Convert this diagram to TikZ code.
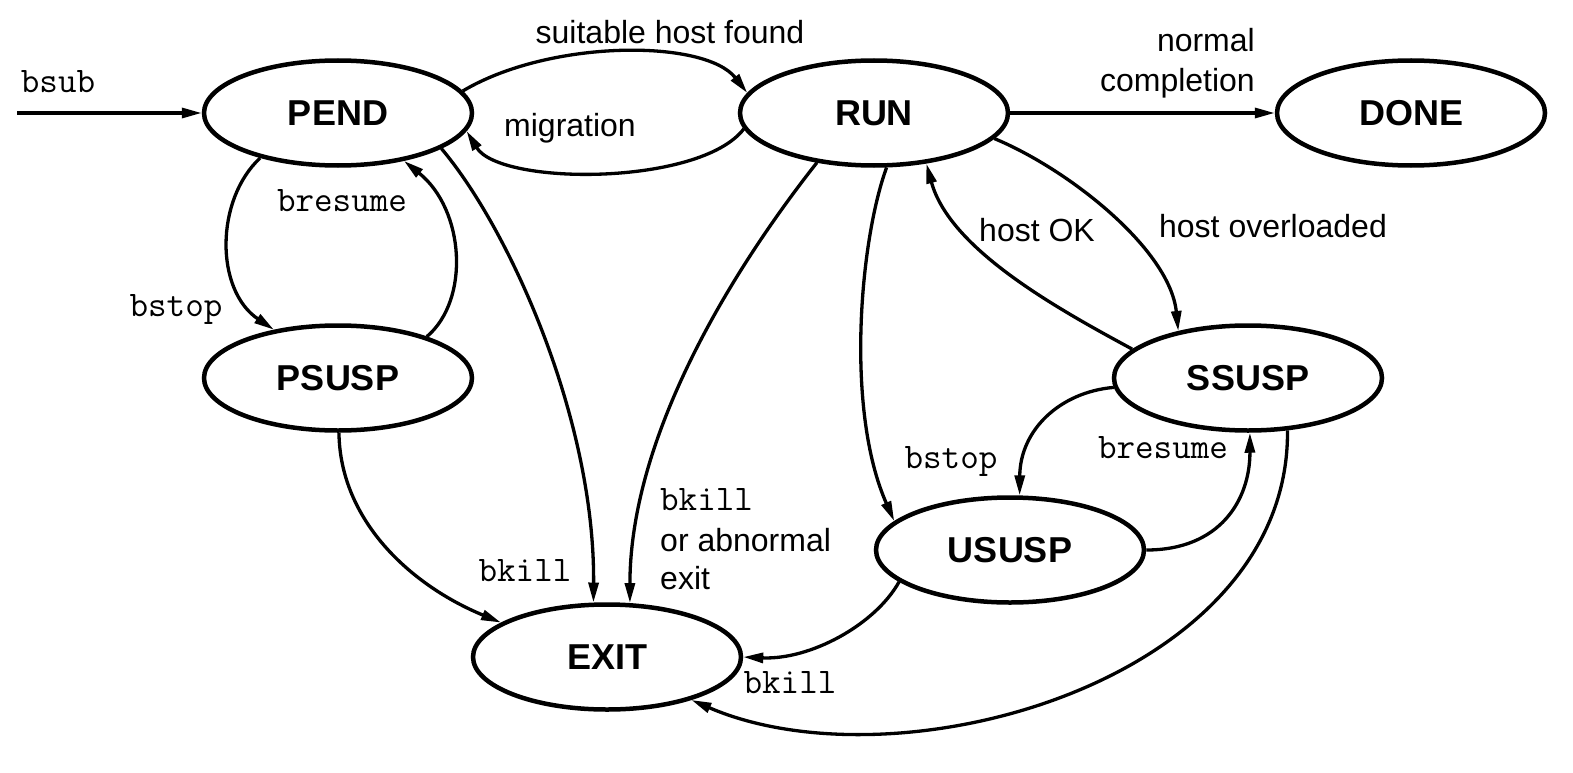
\documentclass[tikz,border=0pt]{standalone}
\usepackage{fontspec}
\setmainfont{Liberation Sans}
\usetikzlibrary{shapes.geometric,arrows.meta}
\tikzset{
  state/.style={ellipse, draw, line width=4.5pt, minimum width=268pt, minimum height=105pt, inner sep=0pt,
    font=\fontsize{36}{40}\selectfont\bfseries},
  edge/.style={line width=3.3pt, -{Triangle[length=20pt,width=10pt]}},
  lab/.style={font=\fontsize{32}{38}\selectfont, inner sep=0pt},
  mono/.style={font=\ttfamily\fontsize{36}{40}\selectfont, inner sep=0pt},
}
\begin{document}
\begin{tikzpicture}[x=1pt,y=-1pt]
\useasboundingbox (0,0) rectangle (1573,773);
% states
\node[state] (pend)  at (338,113) {PEND};
\node[state] (run)   at (874,113) {RUN};
\node[state] (done)  at (1411,113) {DONE};
\node[state] (psusp) at (338,378) {PSUSP};
\node[state] (ssusp) at (1248,378) {SSUSP};
\node[state] (ususp) at (1010,550) {USUSP};
\node[state] (exit)  at (607,657) {EXIT};
\coordinate (start) at (17,113);
% edges
\draw[edge] (start) -- (pend.west);
\draw[edge] (pend.10) .. controls (550,39) and (705,39) .. (run.171);
\draw[edge] (run.187) .. controls (700,186) and (500,186) .. (pend.-8);
\draw[edge] (run.east) -- (done.west);
\draw[edge] (pend.-150) .. controls (215,200) and (215,290) .. (psusp.143);
\draw[edge] (psusp.25) .. controls (470,300) and (465,210) .. (pend.-36);
\draw[edge] (pend.-19) .. controls (510,230) and (595,420) .. (exit.104);
\draw[edge] (run.-139) .. controls (740,260) and (630,430) .. (exit.67);
\draw[edge] (run.-77) .. controls (860,240) and (845,410) .. (ususp.166);
\draw[edge] (ssusp.166) .. controls (1060,310) and (950,250) .. (run.-44);
\draw[edge] (run.-12) .. controls (1070,170) and (1170,250) .. (ssusp.146);
\draw[edge] (ssusp.184) .. controls (1060,392) and (1020,430) .. (ususp.80);
\draw[edge] (ususp.east) .. controls (1220,550) and (1250,500) .. (ssusp.-88);
\draw[edge] (psusp.-89) .. controls (340,520) and (410,585) .. (exit.162);
\draw[edge] (ususp.-164) .. controls (875,625) and (810,660) .. (exit.east);
\draw[edge] (ssusp.-53) .. controls (1290,680) and (900,790) .. (exit.-27);
% labels
\node[mono] (lbsub) at (58,82) {bsub};
\node[lab] (lsuit) at (670,32) {suitable host found};
\node[lab] (lmig) at (570,128) {migration};
\node[lab, anchor=east, align=right] (lnorm) at (1255,63) {normal\\[2pt]completion};
\node[mono] (lbres1) at (342,201) {bresume};
\node[mono] (lbstop1) at (176,309) {bstop};
\node[mono] (lbkill1) at (525,571) {bkill};
\node[mono, anchor=west] (lbkill2) at (660,500) {bkill};
\node[lab, anchor=west] (labn) at (660,540) {or abnormal};
\node[lab, anchor=west] (lexit) at (660,578) {exit};
\node[lab] (lhok) at (1037,230) {host OK};
\node[lab] (lhov) at (1273,226) {host overloaded};
\node[mono] (lbstop2) at (951,461) {bstop};
\node[mono] (lbres2) at (1163,448) {bresume};
\node[mono] (lbkill3) at (790,683) {bkill};
\end{tikzpicture}
\end{document}
